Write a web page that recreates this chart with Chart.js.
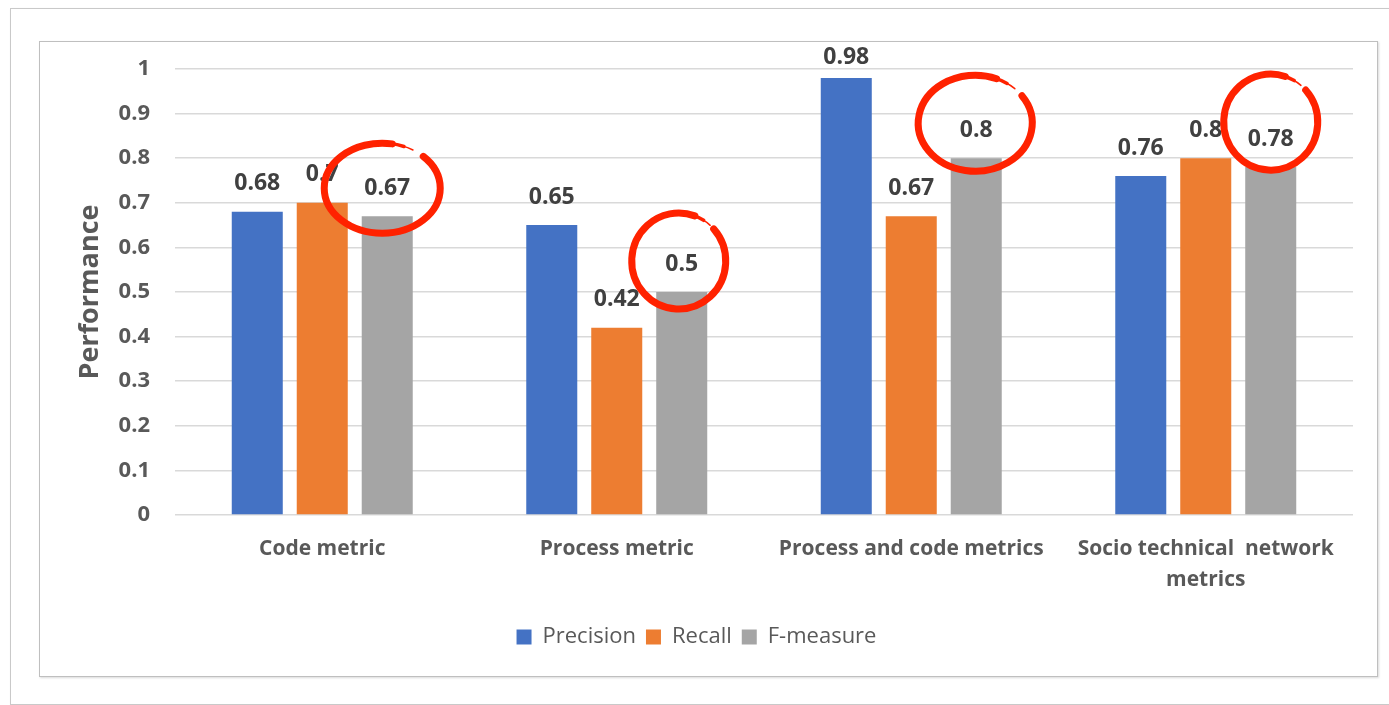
<!DOCTYPE html>
<html>
<head>
<meta charset="utf-8">
<script src="https://cdn.jsdelivr.net/npm/chart.js@4/dist/chart.umd.min.js"></script>
<style>
  html, body { margin: 0; padding: 0; background: #ffffff; overflow: hidden; }
  .sheet {
    position: absolute; left: 10px; top: 8px; width: 1400px; height: 695px;
    border: 1px solid #c9c9c9; box-shadow: 1px 1px 2px rgba(0,0,0,0.12);
  }
  .frame {
    position: absolute; left: 39px; top: 41px; width: 1337px; height: 634px;
    border: 1px solid #bfbfbf; box-shadow: 1px 1px 2px rgba(0,0,0,0.15);
    background: #ffffff;
  }
  #chart { position: absolute; left: 40px; top: 42px; }
</style>
</head>
<body>
<div class="sheet"></div>
<div class="frame"></div>
<canvas id="chart" width="1337" height="634"></canvas>
<script>
// Categories and series
const categories = [
  'Code metric',
  'Process metric',
  'Process and code metrics',
  ['Socio technical  network', 'metrics']
];
const precision = [0.68, 0.65, 0.98, 0.76];
const recall    = [0.7, 0.42, 0.67, 0.8];
const fMeasure  = [0.67, 0.5, 0.8, 0.78];
const yTicks    = [0, 0.1, 0.2, 0.3, 0.4, 0.5, 0.6, 0.7, 0.8, 0.9, 1];

const FONT = "'Open Sans', 'DejaVu Sans', sans-serif";
const AXIS_TEXT = '#595959';
const LABEL_TEXT = '#404040';
const LABEL_GAP = 28;

// Label centre above a bar, kept inside the chart frame
function labelY(chart, bar) {
  return Math.max(bar.y - LABEL_GAP, chart.chartArea.top - 12);
}

// Value labels above each bar
const valueLabels = {
  id: 'valueLabels',
  afterDatasetsDraw(chart) {
    const ctx = chart.ctx;
    ctx.save();
    ctx.font = 'bold 23px ' + FONT;
    ctx.fillStyle = LABEL_TEXT;
    ctx.textAlign = 'center';
    ctx.textBaseline = 'middle';
    chart.data.datasets.forEach((ds, di) => {
      chart.getDatasetMeta(di).data.forEach((bar, i) => {
        ctx.fillText(String(ds.data[i]), bar.x, labelY(chart, bar));
      });
    });
    ctx.restore();
  }
};

// Hand-drawn red rings around the F-measure labels
const ringStyle = [
  { dx: -5, dy: 0,   rx: 58, ry: 45, from: -45, to: 280 },
  { dx: -3, dy: -3,  rx: 47, ry: 48, from: -42, to: 290 },
  { dx: -1, dy: -7,  rx: 57, ry: 48, from: -35, to: 292 },
  { dx: 0,  dy: -17, rx: 47, ry: 48, from: -42, to: 288 }
];
const rings = {
  id: 'rings',
  afterDraw(chart) {
    const ctx = chart.ctx;
    const meta = chart.getDatasetMeta(2);
    const rad = d => d * Math.PI / 180;
    ctx.save();
    ctx.strokeStyle = '#ff2200';
    ctx.lineCap = 'round';
    meta.data.forEach((bar, i) => {
      const r = ringStyle[i];
      const cx = bar.x + r.dx;
      const cy = labelY(chart, bar) + r.dy;
      ctx.lineWidth = 7;
      ctx.beginPath();
      ctx.ellipse(cx, cy, r.rx, r.ry, 0, rad(r.from), rad(r.to));
      ctx.stroke();
      // tapering brush tail
      ctx.lineWidth = 3.5;
      ctx.beginPath();
      ctx.ellipse(cx, cy, r.rx, r.ry, 0, rad(r.to - 2), rad(r.to + 12));
      ctx.stroke();
      ctx.lineWidth = 1.5;
      ctx.beginPath();
      ctx.ellipse(cx, cy, r.rx, r.ry, 0, rad(r.to + 10), rad(r.to + 22));
      ctx.stroke();
    });
    ctx.restore();
  }
};

new Chart(document.getElementById('chart'), {
  type: 'bar',
  data: {
    labels: categories,
    datasets: [
      { label: 'Precision', data: precision, backgroundColor: '#4472c4' },
      { label: 'Recall',    data: recall,    backgroundColor: '#ed7d31' },
      { label: 'F-measure', data: fMeasure,  backgroundColor: '#a5a5a5' }
    ]
  },
  options: {
    responsive: false,
    animation: false,
    events: [],
    datasets: { bar: { categoryPercentage: 0.662, barPercentage: 0.785, borderWidth: 0 } },
    layout: { padding: { top: 27, right: 24, bottom: 18, left: 0 } },
    plugins: {
      tooltip: { enabled: false },
      legend: {
        position: 'bottom',
        labels: {
          boxWidth: 15, boxHeight: 15, padding: 10,
          color: AXIS_TEXT,
          font: { family: FONT, size: 22 }
        }
      }
    },
    scales: {
      x: {
        grid: { display: false, drawTicks: false },
        border: { display: false },
        ticks: {
          color: AXIS_TEXT, padding: 18, maxRotation: 0, autoSkip: false,
          font: { family: FONT, size: 21, weight: 'bold', lineHeight: 1.5 }
        },
        afterFit(scale) {
          scale.height = 101;
          scale.paddingLeft = 0; scale.paddingRight = 0;
        }
      },
      y: {
        min: 0, max: 1,
        afterBuildTicks(scale) { scale.ticks = yTicks.map(v => ({ value: v })); },
        grid: { color: '#d9d9d9', lineWidth: 1.5, drawTicks: false },
        border: { display: false },
        ticks: {
          color: AXIS_TEXT, padding: 25,
          font: { family: FONT, size: 22, weight: 'bold' },
          callback: v => String(v)
        },
        title: {
          display: true, text: 'Performance', color: AXIS_TEXT,
          font: { family: FONT, size: 27, weight: 'bold' },
          padding: { top: 34, bottom: 0 }
        },
        afterFit(scale) {
          scale.width = 135;
          scale.paddingTop = 0; scale.paddingBottom = 0;
        }
      }
    }
  },
  plugins: [valueLabels, rings]
});
</script>
</body>
</html>
